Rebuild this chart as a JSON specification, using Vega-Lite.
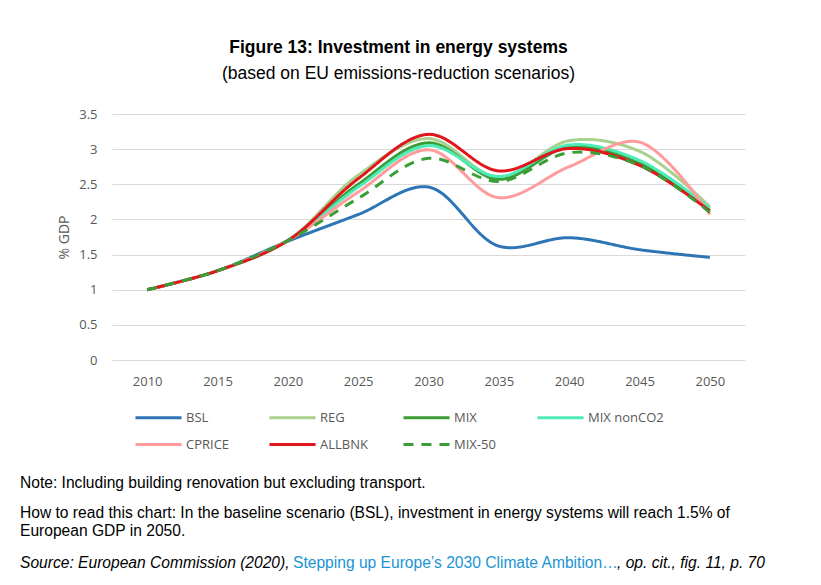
{
  "$schema": "https://vega.github.io/schema/vega-lite/v6.json",
  "background": "white",
  "padding": {"left": 20, "top": 39, "right": 20, "bottom": 10},
  "title": {
    "text": "Figure 13: Investment in energy systems",
    "subtitle": "(based on EU emissions-reduction scenarios)",
    "anchor": "middle",
    "dx": 6,
    "font": "Liberation Sans",
    "fontSize": 17.5,
    "fontWeight": "bold",
    "color": "black",
    "subtitleFont": "Liberation Sans",
    "subtitleFontSize": 17.5,
    "subtitleColor": "black",
    "subtitlePadding": 8,
    "offset": 26
  },
  "config": {"view": {"stroke": null}},
  "spacing": 88,
  "vconcat": [
    {
      "width": 633,
      "height": 246,
      "data": {
        "values": [
          {"series": "BSL", "year": 2010, "value": 1.0},
          {"series": "BSL", "year": 2015, "value": 1.27},
          {"series": "BSL", "year": 2020, "value": 1.69},
          {"series": "BSL", "year": 2025, "value": 2.07},
          {"series": "BSL", "year": 2030, "value": 2.46},
          {"series": "BSL", "year": 2035, "value": 1.62},
          {"series": "BSL", "year": 2040, "value": 1.74},
          {"series": "BSL", "year": 2045, "value": 1.57},
          {"series": "BSL", "year": 2050, "value": 1.46},
          {"series": "REG", "year": 2010, "value": 1.0},
          {"series": "REG", "year": 2015, "value": 1.27},
          {"series": "REG", "year": 2020, "value": 1.7},
          {"series": "REG", "year": 2025, "value": 2.63},
          {"series": "REG", "year": 2030, "value": 3.15},
          {"series": "REG", "year": 2035, "value": 2.6},
          {"series": "REG", "year": 2040, "value": 3.12},
          {"series": "REG", "year": 2045, "value": 2.97},
          {"series": "REG", "year": 2050, "value": 2.18},
          {"series": "MIX", "year": 2010, "value": 1.0},
          {"series": "MIX", "year": 2015, "value": 1.27},
          {"series": "MIX", "year": 2020, "value": 1.7},
          {"series": "MIX", "year": 2025, "value": 2.5},
          {"series": "MIX", "year": 2030, "value": 3.09},
          {"series": "MIX", "year": 2035, "value": 2.57},
          {"series": "MIX", "year": 2040, "value": 3.03},
          {"series": "MIX", "year": 2045, "value": 2.8},
          {"series": "MIX", "year": 2050, "value": 2.13},
          {"series": "MIX nonCO2", "year": 2010, "value": 1.0},
          {"series": "MIX nonCO2", "year": 2015, "value": 1.27},
          {"series": "MIX nonCO2", "year": 2020, "value": 1.7},
          {"series": "MIX nonCO2", "year": 2025, "value": 2.46},
          {"series": "MIX nonCO2", "year": 2030, "value": 3.05},
          {"series": "MIX nonCO2", "year": 2035, "value": 2.61},
          {"series": "MIX nonCO2", "year": 2040, "value": 3.06},
          {"series": "MIX nonCO2", "year": 2045, "value": 2.84},
          {"series": "MIX nonCO2", "year": 2050, "value": 2.16},
          {"series": "CPRICE", "year": 2010, "value": 1.0},
          {"series": "CPRICE", "year": 2015, "value": 1.27},
          {"series": "CPRICE", "year": 2020, "value": 1.7},
          {"series": "CPRICE", "year": 2025, "value": 2.39},
          {"series": "CPRICE", "year": 2030, "value": 2.99},
          {"series": "CPRICE", "year": 2035, "value": 2.31},
          {"series": "CPRICE", "year": 2040, "value": 2.75},
          {"series": "CPRICE", "year": 2045, "value": 3.1},
          {"series": "CPRICE", "year": 2050, "value": 2.07},
          {"series": "ALLBNK", "year": 2010, "value": 1.0},
          {"series": "ALLBNK", "year": 2015, "value": 1.27},
          {"series": "ALLBNK", "year": 2020, "value": 1.7},
          {"series": "ALLBNK", "year": 2025, "value": 2.58},
          {"series": "ALLBNK", "year": 2030, "value": 3.21},
          {"series": "ALLBNK", "year": 2035, "value": 2.69},
          {"series": "ALLBNK", "year": 2040, "value": 3.01},
          {"series": "ALLBNK", "year": 2045, "value": 2.77},
          {"series": "ALLBNK", "year": 2050, "value": 2.12},
          {"series": "MIX-50", "year": 2010, "value": 1.0},
          {"series": "MIX-50", "year": 2015, "value": 1.27},
          {"series": "MIX-50", "year": 2020, "value": 1.7},
          {"series": "MIX-50", "year": 2025, "value": 2.3},
          {"series": "MIX-50", "year": 2030, "value": 2.87},
          {"series": "MIX-50", "year": 2035, "value": 2.54},
          {"series": "MIX-50", "year": 2040, "value": 2.95},
          {"series": "MIX-50", "year": 2045, "value": 2.77},
          {"series": "MIX-50", "year": 2050, "value": 2.1}
        ]
      },
      "mark": {"type": "line", "interpolate": "catmull-rom", "strokeWidth": 3},
      "encoding": {
        "x": {
          "field": "year",
          "type": "quantitative",
          "scale": {"domain": [2007.5, 2052.5], "nice": false, "zero": false},
          "axis": {
            "values": [2010, 2015, 2020, 2025, 2030, 2035, 2040, 2045, 2050],
            "format": "d",
            "grid": false,
            "domain": false,
            "ticks": false,
            "labelPadding": 15,
            "labelFont": "Open Sans",
            "labelFontSize": 13,
            "labelColor": "#595959",
            "title": null
          }
        },
        "y": {
          "field": "value",
          "type": "quantitative",
          "scale": {"domain": [0, 3.5], "nice": false},
          "axis": {
            "values": [0, 0.5, 1, 1.5, 2, 2.5, 3, 3.5],
            "labelExpr": "'' + datum.value",
            "grid": true,
            "gridColor": "#d9d9d9",
            "gridWidth": 1,
            "domain": false,
            "ticks": false,
            "labelPadding": 15,
            "labelFont": "Open Sans",
            "labelFontSize": 13,
            "labelColor": "#595959",
            "title": "% GDP",
            "titleFont": "Open Sans",
            "titleFontSize": 14,
            "titleFontWeight": "normal",
            "titleColor": "#595959",
            "titlePadding": 7
          }
        },
        "color": {
          "field": "series",
          "type": "nominal",
          "sort": ["BSL", "REG", "MIX", "MIX nonCO2", "CPRICE", "ALLBNK", "MIX-50"],
          "scale": {
            "domain": ["BSL", "REG", "MIX", "MIX nonCO2", "CPRICE", "ALLBNK", "MIX-50"],
            "range": ["#2E75B6", "#A9D18E", "#3A9D35", "#4DEBB5", "#FF9B9B", "#E0161C", "#3A9D35"]
          },
          "legend": {
            "title": null,
            "orient": "none",
            "legendX": 27,
            "legendY": 284,
            "direction": "horizontal",
            "columns": 4,
            "gridAlign": "all",
            "symbolType": "M-1.28,0H1.28",
            "symbolSize": 1296,
            "symbolStrokeWidth": 3,
            "labelFont": "Open Sans",
            "labelFontSize": 13,
            "labelColor": "#595959",
            "labelOffset": 8,
            "labelLimit": 200,
            "columnPadding": 1,
            "rowPadding": 0,
            "padding": 0
          }
        },
        "strokeDash": {
          "field": "series",
          "type": "nominal",
          "sort": ["BSL", "REG", "MIX", "MIX nonCO2", "CPRICE", "ALLBNK", "MIX-50"],
          "scale": {
            "domain": ["BSL", "REG", "MIX", "MIX nonCO2", "CPRICE", "ALLBNK", "MIX-50"],
            "range": [[1, 0], [1, 0], [1, 0], [1, 0], [1, 0], [1, 0], [10, 8]]
          },
          "legend": {
            "title": null,
            "orient": "none",
            "legendX": 27,
            "legendY": 284,
            "direction": "horizontal",
            "columns": 4,
            "gridAlign": "all",
            "symbolType": "M-1.28,0H1.28",
            "symbolSize": 1296,
            "symbolStrokeWidth": 3,
            "labelFont": "Open Sans",
            "labelFontSize": 13,
            "labelColor": "#595959",
            "labelOffset": 8,
            "labelLimit": 200,
            "columnPadding": 1,
            "rowPadding": 0,
            "padding": 0
          }
        }
      }
    },
    {
      "width": 633,
      "height": 60,
      "data": {
        "values": [
          {"line": 0, "part": "body", "text": "Note: Including building renovation but excluding transport."},
          {"line": 1, "part": "body", "text": "How to read this chart: In the baseline scenario (BSL), investment in energy systems will reach 1.5% of\nEuropean GDP in 2050."},
          {"line": 2, "part": "source", "text": "Source: European Commission (2020), "},
          {"line": 2, "part": "link", "text": "Stepping up Europe’s 2030 Climate Ambition…"},
          {"line": 2, "part": "cite", "text": ", op. cit., fig. 11, p. 70"}
        ]
      },
      "encoding": {
        "y": {"field": "line", "type": "ordinal", "scale": {"type": "point", "padding": 0}, "axis": null},
        "text": {"field": "text", "type": "nominal"}
      },
      "layer": [
        {
          "transform": [{"filter": "datum.part == 'body'"}],
          "mark": {"type": "text", "align": "left", "baseline": "alphabetic", "font": "Liberation Sans", "fontSize": 15.6, "lineBreak": "\n", "lineHeight": 18, "x": -92, "color": "black"}
        },
        {
          "transform": [{"filter": "datum.part == 'source'"}],
          "mark": {"type": "text", "align": "left", "baseline": "alphabetic", "font": "Liberation Sans", "fontSize": 15.6, "fontStyle": "italic", "x": -92, "dy": 20, "color": "black"}
        },
        {
          "transform": [{"filter": "datum.part == 'link'"}],
          "mark": {"type": "text", "align": "left", "baseline": "alphabetic", "font": "Liberation Sans", "fontSize": 15.6, "x": -92, "dx": 273, "dy": 20, "color": "#1a95d3"}
        },
        {
          "transform": [{"filter": "datum.part == 'cite'"}],
          "mark": {"type": "text", "align": "left", "baseline": "alphabetic", "font": "Liberation Sans", "fontSize": 15.6, "fontStyle": "italic", "x": -92, "dx": 597, "dy": 20, "color": "black"}
        }
      ]
    }
  ]
}
